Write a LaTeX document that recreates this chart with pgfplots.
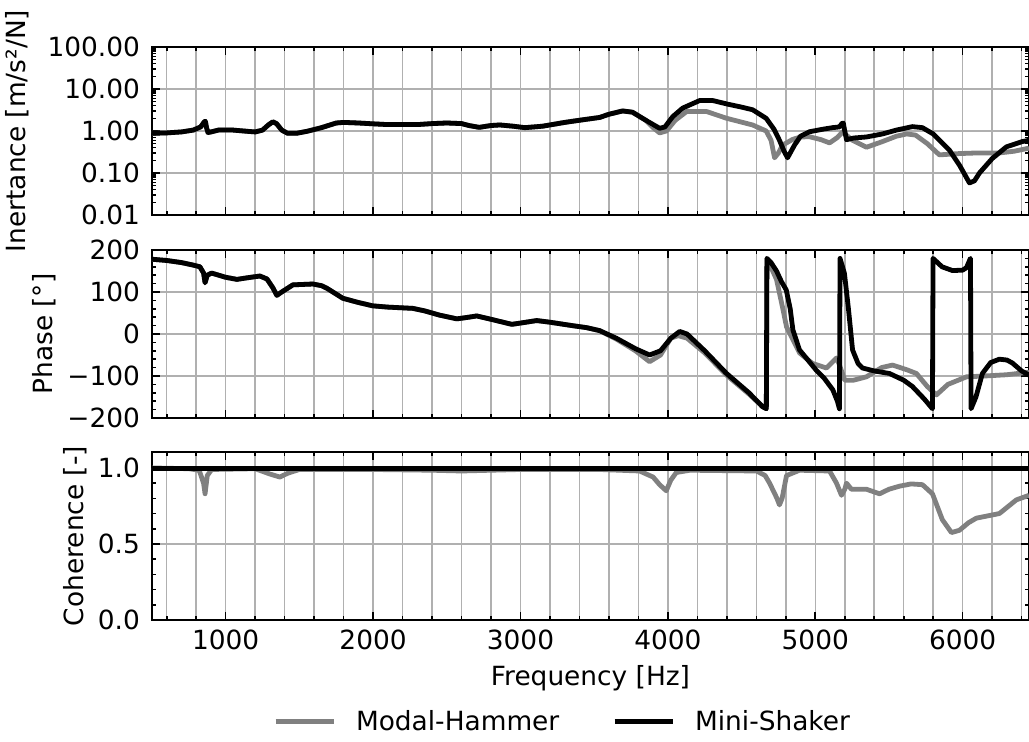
\documentclass[border=0pt]{standalone}
\usepackage{fontspec}
\setmainfont{DejaVu Sans}
\usepackage{pgfplots}
\pgfplotsset{compat=1.18}
\definecolor{hammerc}{HTML}{808080}
\definecolor{gridc}{HTML}{B0B0B0}

\newcommand{\fs}{\fontsize{13.2}{15}\selectfont}

\pgfplotsset{
  panel/.style={
    scale only axis, width=438.5pt, height=84pt,
    anchor=south west,
    xmin=500, xmax=6450,
    xtick={1000,2000,3000,4000,5000,6000},
    minor xtick={600,800,...,6400},
    tick align=inside, tick pos=both,
    xmajorgrids, xminorgrids, ymajorgrids,
    grid style={gridc, line width=0.75pt},
    major tick length=4pt, minor tick length=2pt,
    tick style={black, line width=0.8pt},
    axis line style={line width=1pt},
    tick label style={font=\fs},
    label style={font=\fs},
    yticklabel style={xshift=-2.5pt},
    xticklabel style={yshift=-1.5pt},
    /pgf/number format/assume math mode=true,
  },
  hammerline/.style={hammerc, line width=2.4pt, line join=round},
  shakerline/.style={black, line width=2.4pt, line join=round},
}

\begin{document}
\begin{tikzpicture}

% inertance
\begin{axis}[panel, at={(76pt,263.5pt)},
  ymode=log, ymin=0.01, ymax=100,
  ytick={0.01,0.1,1,10,100},
  yticklabels={0.01,0.10,1.00,10.00,100.00},
  xticklabels={},
  ylabel={Inertance [m/s²/N]},
  ylabel style={at={(axis description cs:-0.154,0.5)}, anchor=center},
]
\addplot[hammerline] coordinates {
(500,0.88) (600,0.90) (700,0.95) (780,1.05) (830,1.25) (855,1.65) (862,1.7)
(870,1.2) (880,0.92) (900,0.95) (950,1.05) (1050,1.05) (1150,0.98) (1200,0.95)
(1250,1.05) (1290,1.4) (1320,1.65) (1345,1.5) (1380,1.05) (1420,0.88) (1480,0.88)
(1550,0.98) (1650,1.2) (1750,1.55) (1800,1.6) (1900,1.55) (2000,1.48) (2100,1.42)
(2200,1.42) (2300,1.42) (2400,1.5) (2500,1.55) (2600,1.5) (2650,1.35) (2720,1.22)
(2800,1.35) (2860,1.39) (2950,1.3) (3030,1.2) (3150,1.3) (3300,1.6) (3400,1.8)
(3537,2.1) (3600,2.5) (3693,3.0) (3760,2.8) (3850,1.8) (3900,1.2) (3944,0.9)
(3990,1.0) (4050,1.8) (4127,2.9) (4263,2.9) (4400,2.0) (4575,1.39) (4667,1.0)
(4700,0.6) (4724,0.23) (4750,0.3) (4778,0.46) (4846,0.63) (4900,0.72) (4961,0.73)
(5040,0.62) (5097,0.52) (5150,0.7) (5185,0.95) (5210,0.8) (5253,0.6) (5347,0.41)
(5450,0.55) (5550,0.75) (5619,0.85) (5680,0.8) (5760,0.5) (5842,0.27) (5978,0.29)
(6100,0.3) (6249,0.3) (6350,0.33) (6450,0.39)
};
\addplot[shakerline] coordinates {
(500,0.88) (600,0.90) (700,0.95) (780,1.05) (830,1.25) (855,1.65) (862,1.7)
(870,1.2) (880,0.92) (900,0.95) (950,1.05) (1050,1.05) (1150,0.98) (1200,0.95)
(1250,1.05) (1290,1.4) (1320,1.65) (1345,1.5) (1380,1.05) (1420,0.88) (1480,0.88)
(1550,0.98) (1650,1.2) (1750,1.55) (1800,1.6) (1900,1.55) (2000,1.48) (2100,1.42)
(2200,1.42) (2300,1.42) (2400,1.5) (2500,1.55) (2600,1.5) (2650,1.35) (2720,1.22)
(2800,1.35) (2860,1.39) (2950,1.3) (3030,1.2) (3150,1.3) (3300,1.6) (3400,1.8)
(3537,2.1) (3600,2.5) (3693,3.0) (3760,2.8) (3850,1.8) (3944,1.16) (3980,1.25)
(4033,2.2) (4100,3.5) (4215,5.3) (4305,5.3) (4400,4.4) (4500,3.7) (4575,3.2)
(4667,2.0) (4720,1.1) (4757,0.6) (4790,0.32) (4812,0.23) (4830,0.3) (4859,0.46)
(4900,0.75) (4961,0.96) (5050,1.1) (5117,1.2) (5164,1.25) (5180,1.5) (5190,1.55)
(5200,1.0) (5212,0.62) (5260,0.68) (5347,0.72) (5456,0.85) (5550,1.05) (5659,1.27)
(5727,1.2) (5800,0.85) (5910,0.35) (5980,0.15) (6046,0.058) (6080,0.065) (6114,0.1)
(6200,0.22) (6297,0.42) (6405,0.56) (6450,0.6)
};
\end{axis}

% phase
\begin{axis}[panel, at={(76pt,162pt)},
  ymin=-200, ymax=200,
  ytick={-200,-100,0,100,200},
  yticklabels={−200,−100,0,100,200},
  minor ytick={-180,-160,...,180},
  xticklabels={},
  ylabel={Phase [°]},
  ylabel style={at={(axis description cs:-0.123,0.5)}, anchor=center},
]
\addplot[hammerline] coordinates {
(500,178) (600,175) (700,170) (780,164) (825,160) (850,145) (860,122) (875,140)
(905,145) (1000,135) (1076,130) (1150,134) (1232,138) (1280,131) (1320,110)
(1347,92) (1380,100) (1456,117) (1592,119) (1650,115) (1686,109) (1795,85)
(1900,75) (1998,67) (2100,64) (2269,61) (2350,55) (2450,45) (2568,36) (2650,40)
(2703,43) (2800,35) (2941,23) (3000,26) (3110,32) (3200,28) (3350,20) (3450,15)
(3537,8) (3650,-12) (3780,-40) (3876,-66) (3950,-50) (4020,-10) (4070,-4)
(4130,-10) (4250,-45) (4398,-98) (4550,-143) (4642,-173) (4668,-178) (4672,180)
(4737,130) (4780,60) (4805,17) (4893,-45) (4980,-70) (5076,-81) (5144,-57)
(5160,-70) (5200,-110) (5260,-110) (5347,-102) (5450,-80) (5524,-74) (5620,-85)
(5686,-94) (5760,-125) (5822,-145) (5900,-120) (6026,-102) (6150,-100)
(6300,-97) (6450,-91)
};
\addplot[shakerline] coordinates {
(500,178) (600,175) (700,170) (780,164) (825,160) (850,145) (860,122) (875,140)
(905,145) (1000,135) (1076,130) (1150,134) (1232,138) (1280,131) (1320,110)
(1347,92) (1380,100) (1456,117) (1592,119) (1650,115) (1686,109) (1795,85)
(1900,75) (1998,67) (2100,64) (2269,61) (2350,55) (2450,45) (2568,36) (2650,40)
(2703,43) (2800,35) (2941,23) (3000,26) (3110,32) (3200,28) (3350,20) (3450,15)
(3537,8) (3650,-10) (3780,-35) (3876,-50) (3950,-40) (4020,-10) (4080,6)
(4130,0) (4250,-40) (4398,-94) (4550,-140) (4642,-173) (4668,-178) (4672,180)
(4700,170) (4737,150) (4770,125) (4803,105) (4830,60) (4848,10) (4893,-38)
(4950,-62) (5006,-86) (5060,-105) (5119,-133) (5150,-160) (5164,-178) (5168,180)
(5198,144) (5225,60) (5253,-38) (5290,-70) (5320,-81) (5400,-88) (5503,-94)
(5600,-110) (5659,-125) (5740,-155) (5795,-178) (5799,180) (5860,160) (5931,151)
(6000,152) (6026,158) (6050,178) (6053,180) (6057,-178) (6090,-150) (6134,-94)
(6190,-68) (6249,-60) (6300,-62) (6337,-69) (6400,-88) (6450,-98)
};
\end{axis}

% coherence
\begin{axis}[panel, at={(76pt,61pt)},
  ymin=0, ymax=1.105,
  ytick={0,0.5,1},
  yticklabels={0.0,0.5,1.0},
  minor ytick={0.1,0.2,0.3,0.4,0.6,0.7,0.8,0.9},
  xticklabels={1000,2000,3000,4000,5000,6000},
  xlabel={Frequency [Hz]},
  xlabel style={at={(axis description cs:0.5,-0.345)}, anchor=center},
  ylabel={Coherence [-]},
  ylabel style={at={(axis description cs:-0.088,0.5)}, anchor=center},
  legend columns=2,
  legend image code/.code={\draw[#1] (0pt,0pt) -- (29pt,0pt);},
  legend style={at={(axis description cs:0.467,-0.605)}, anchor=center,
    draw=none, fill=none, font=\fs, nodes={inner sep=0pt},
    /tikz/every odd column/.append style={column sep=10pt},
    /tikz/every even column/.append style={column sep=26.5pt}},
]
\addplot[hammerline] coordinates {
(500,1.0) (750,0.995) (820,0.985) (850,0.9) (860,0.83) (875,0.95) (905,0.99)
(1200,0.995) (1300,0.96) (1368,0.94) (1420,0.965) (1500,0.99) (2000,0.99)
(2400,0.985) (2600,0.98) (2800,0.985) (3000,0.99) (3537,0.99) (3808,0.98)
(3900,0.94) (3944,0.89) (3989,0.85) (4020,0.92) (4057,0.97) (4150,0.985)
(4602,0.98) (4660,0.95) (4690,0.90) (4740,0.80) (4757,0.757) (4775,0.8)
(4805,0.95) (4893,0.985) (5097,0.98) (5144,0.90) (5178,0.82) (5200,0.86)
(5212,0.9) (5245,0.86) (5347,0.86) (5436,0.83) (5500,0.86) (5571,0.88)
(5650,0.895) (5727,0.89) (5795,0.83) (5862,0.66) (5924,0.575) (5978,0.59)
(6040,0.64) (6093,0.67) (6249,0.70) (6364,0.79) (6450,0.82)
};
\addlegendentry{Modal-Hammer}
\addplot[shakerline] coordinates {
(500,0.998) (1000,0.998) (2000,0.998) (3000,0.998) (4000,0.998) (5000,0.998)
(6000,0.998) (6450,0.998)
};
\addlegendentry{Mini-Shaker}
\end{axis}

\pgfresetboundingbox
\useasboundingbox (0pt,0pt) rectangle (514.5pt,371pt);
\end{tikzpicture}
\end{document}
